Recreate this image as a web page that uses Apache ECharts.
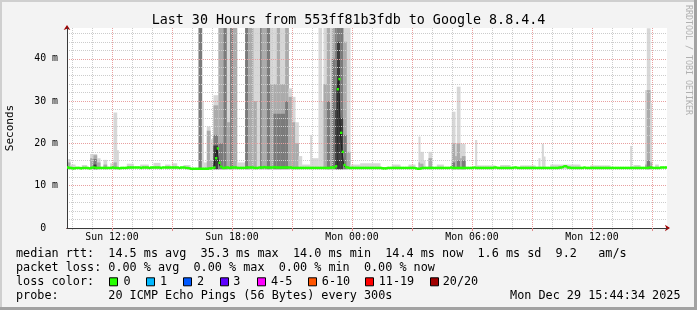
<!DOCTYPE html>
<html><head><meta charset="utf-8">
<script src="https://cdn.jsdelivr.net/npm/echarts@6/dist/echarts.min.js"></script>
<style>html,body{margin:0;padding:0;background:#f3f3f3}#c{width:697px;height:310px}</style>
</head><body><div id="c"></div>
<script>
const FONT = 'DejaVu Sans Mono';
const titleText = 'Last 30 Hours from 553ff81b3fdb to Google 8.8.4.4';
const startMinute = 585;          // Sun 09:45
const stepMinutes = 5;
const stepCount = 361;
const dayNames = ['Sun', 'Mon'];
const xTickLabels = ['Sun 12:00', 'Sun 18:00', 'Mon 00:00', 'Mon 06:00', 'Mon 12:00'];
const yTickValues = [0, 10, 20, 30, 40];
const yMax = 47.28;
const smokeBase = 13.9;

// median RTT (ms), one value per 5-minute step
const median = [
14.3,14.2,14.2,14.1,14.1,14.2,14.2,14.2,14.1,14.2,14.2,14.2,14.2,14.1,14.2,14.3,14.3,14.2,14.2,14.2,
14.2,14.2,14.2,14.2,14.2,14.2,14.2,14.3,14.2,14.2,14.2,14.1,14.2,14.2,14.2,14.2,14.3,14.3,14.3,14.3,
14.3,14.3,14.3,14.3,14.2,14.3,14.3,14.3,14.3,14.2,14.3,14.3,14.3,14.3,14.3,14.3,14.2,14.3,14.3,14.3,
14.3,14.3,14.3,14.3,14.3,14.3,14.3,14.2,14.3,14.3,14.3,14.2,14.2,14.1,14.0,14.0,14.0,14.0,14.0,14.0,
14.0,14.0,14.0,14.0,14.0,14.1,14.1,14.2,14.3,16.5,18.8,15.4,14.5,14.2,14.2,14.3,14.3,14.2,14.3,14.3,
14.3,14.3,14.2,14.2,14.2,14.2,14.2,14.3,14.3,14.3,14.3,14.3,14.2,14.2,14.2,14.3,14.3,14.3,14.4,14.3,
14.3,14.3,14.3,14.3,14.4,14.3,14.3,14.3,14.3,14.3,14.3,14.3,14.3,14.3,14.3,14.2,14.2,14.2,14.2,14.2,
14.2,14.2,14.2,14.2,14.2,14.2,14.2,14.2,14.2,14.2,14.2,14.2,14.2,14.2,14.2,14.2,14.2,14.2,14.3,14.3,
14.3,14.6,32.8,35.2,22.5,18.0,14.9,14.4,14.3,14.2,14.2,14.2,14.2,14.2,14.2,14.2,14.2,14.2,14.2,14.2,
14.2,14.2,14.2,14.2,14.2,14.2,14.2,14.2,14.2,14.1,14.1,14.1,14.2,14.2,14.2,14.2,14.2,14.2,14.2,14.2,
14.2,14.2,14.2,14.2,14.2,14.2,14.2,14.2,14.2,14.1,14.0,14.0,14.1,14.2,14.2,14.2,14.2,14.2,14.2,14.2,
14.2,14.2,14.2,14.2,14.2,14.2,14.2,14.2,14.2,14.2,14.3,14.2,14.2,14.2,14.2,14.2,14.2,14.2,14.2,14.2,
14.2,14.2,14.2,14.2,14.3,14.2,14.2,14.2,14.2,14.2,14.2,14.2,14.2,14.2,14.2,14.2,14.3,14.3,14.2,14.2,
14.2,14.2,14.2,14.2,14.2,14.2,14.2,14.2,14.3,14.3,14.2,14.2,14.2,14.2,14.2,14.2,14.2,14.2,14.2,14.2,
14.2,14.2,14.2,14.2,14.2,14.2,14.2,14.2,14.2,14.2,14.2,14.2,14.2,14.2,14.2,14.3,14.3,14.4,14.6,14.6,
14.3,14.3,14.2,14.2,14.2,14.2,14.2,14.2,14.2,14.2,14.3,14.2,14.2,14.2,14.2,14.2,14.2,14.2,14.2,14.2,
14.2,14.2,14.2,14.2,14.2,14.2,14.2,14.2,14.2,14.2,14.2,14.2,14.2,14.2,14.2,14.2,14.2,14.2,14.2,14.2,
14.2,14.2,14.2,14.2,14.2,14.2,14.2,14.2,14.2,14.3,14.3,14.2,14.2,14.2,14.2,14.2,14.3,14.3,14.3,14.3,
14.4
];

// smoke: runs of steps [start, end) with the top of each grey band (ms), 0 = band absent
const segStart = [0,2,9,14,16,18,22,26,28,30,36,44,52,59,63,70,
  79,81,82,84,86,88,91,94,96,98,99,100,102,107,109,112,114,116,117,120,122,124,126,128,131,133,135,137,139,141,146,147,151,153,154,156,158,159,161,162,164,166,168,170,
  176,195,205,211,212,214,217,222,231,233,234,236,237,245,246,260,272,283,285,286,290,314,338,340,347,348,350,353];
const segEnd = [2,5,12,16,18,20,24,28,30,31,40,49,56,62,66,74,
  81,82,84,86,88,91,94,96,98,99,100,102,107,109,112,114,116,117,120,122,124,126,128,131,133,135,137,139,141,146,147,151,153,154,156,158,159,161,162,164,166,168,170,176,
  188,200,209,212,214,215,219,226,233,234,236,237,239,246,257,266,281,284,286,287,308,326,339,344,348,350,351,355];
const segLight = [16.3,15.0,14.9,17.5,17.5,16.5,16.1,15.3,27.3,18.4,15.2,15.0,15.4,15.0,15.3,14.9,
  0,30,15.5,24,21,31.4,48,48,48,48,48,48,15.5,48,48,48,48,48,48,48,48,48,48,48,48,33,31,25,17,15,22,16.5,48,30,48,48,48,48,48,48,48,48,48,15,
  15.3,15,15,21.6,18,16,18,15,27.5,20,33.4,20,19.9,20.8,14.8,14.9,14.8,16.5,19.9,16.9,15,14.8,19.4,14.9,32.6,47.2,29.5,15];
const segMid = [15.5,0,0,16.5,17.2,15.5,15.0,0,15.5,0,0,0,0,0,0,0,
  0,0,0,23,16,29,48,48,25,48,48,48,0,48,48,30,0,48,48,48,34,34,48,34,48,31,25,20,0,0,0,0,0,0,34,48,28,48,48,48,48,44,18,0,
  0,0,0,15.5,15.2,0,16.5,0,20,17,20,16.5,17,0,0,0,0,0,0,0,0,0,0,0,15,32.6,15.5,0];
const segDark = [0,0,0,0,16.3,0,0,0,0,0,0,0,0,0,0,0,
  48,0,0,0,0,22,20,48,0,48,48,0,0,48,0,0,0,48,0,48,0,27,27,27,30,0,0,0,0,0,0,0,0,0,0,30,0,40,48,48,48,22,0,0,
  0,0,0,0,0,0,0,0,15.5,0,16,0,16,0,0,0,0,0,0,0,0,0,0,0,0,16,0,0];
const segBlack = [0,0,0,0,15.0,0,0,0,0,0,0,0,0,0,0,0,
  0,0,0,0,0,19.5,0,0,0,0,0,0,0,0,0,0,0,0,0,0,0,0,0,0,0,0,0,0,0,0,0,0,0,0,0,0,0,0,28,44,26,0,0,0,
  0,0,0,0,0,0,0,0,0,0,0,0,0,0,0,0,0,0,0,0,0,0,0,0,0,0,0,0];

const rttLabel = 'median rtt:';
const rttStats = ['14.5 ms avg', '35.3 ms max', '14.0 ms min', '14.4 ms now', '1.6 ms sd', '9.2', 'am/s'];
const lossLabel = 'packet loss:';
const lossStats = ['0.00 % avg', '0.00 % max', '0.00 % min', '0.00 % now'];
const colorLabel = 'loss color:';
const lossNames = ['0', '1', '2', '3', '4-5', '6-10', '11-19', '20/20'];
const lossColors = ['#26ff00', '#00b8ff', '#0059ff', '#5e00ff', '#ff00ff', '#ff5500', '#ff0000', '#a00000'];
const probeLabel = 'probe:';
const probeText = '20 ICMP Echo Pings (56 Bytes) every 300s';
const dateText = 'Mon Dec 29 15:44:34 2025';
const yName = 'Seconds';
const sideText = 'RRDTOOL / TOBI OETIKER';

// ---- layout / style ----
const legendLeft = 16;
const charW = 7.1;
const legendFont = 11.8;
const rttCols = [13, 26, 39, 52, 65, 76, 82];
const lossCols = [13, 25, 37, 49];
const probeCol = 13;
const boxX = [108.9, 145.8, 182.7, 219.6, 256.9, 307.6, 365.3, 430.2];
const nameX = [123.6, 160.0, 196.9, 233.3, 271.1, 321.8, 378.7, 442.7];
const rowY = [254.3, 268.3, 282.3, 296.0];
const smokeColors = ['#d7d7d7', '#ababab', '#7b7b7b', '#3c3c3c'];

const times = [];
for (let i = 0; i < stepCount; i++) {
  const m = startMinute + i * stepMinutes;
  const d = Math.floor(m / 1440), hh = Math.floor((m % 1440) / 60), mm = m % 60;
  times.push(dayNames[d] + ' ' + String(hh).padStart(2, '0') + ':' + String(mm).padStart(2, '0'));
}
const isHour = (i, v) => v.endsWith(':00');
const isMajor = (i, v) => v.endsWith(':00') && parseInt(v.slice(4, 6), 10) % 3 === 0;
const isLabel = (i, v) => xTickLabels.includes(v);

const chart = echarts.init(document.getElementById('c'), null, {renderer: 'canvas'});

const legendText = (text, x, y) => ({
  type: 'text', x: x, y: y, silent: true,
  style: {text: text, fontFamily: FONT, fontSize: legendFont, fill: '#000', align: 'left', verticalAlign: 'middle'}
});
const colX = c => legendLeft + c * charW;

const graphics = [
  {type: 'rect', shape: {x: 0, y: 0, width: 697, height: 2}, style: {fill: '#cfcfcf'}, silent: true},
  {type: 'rect', shape: {x: 0, y: 0, width: 2, height: 310}, style: {fill: '#cfcfcf'}, silent: true},
  {type: 'rect', shape: {x: 694, y: 0, width: 3, height: 310}, style: {fill: '#a2a2a2'}, silent: true},
  {type: 'rect', shape: {x: 0, y: 307, width: 697, height: 3}, style: {fill: '#a2a2a2'}, silent: true},
  {type: 'text', x: 10, y: 128, rotation: Math.PI / 2, silent: true,
    style: {text: yName, fontFamily: FONT, fontSize: 11, fill: '#000', align: 'center', verticalAlign: 'middle'}},
  {type: 'text', x: 688, y: 60, rotation: -Math.PI / 2, silent: true,
    style: {text: sideText, fontFamily: FONT, fontSize: 8.3, fill: '#b0b0b0', align: 'center', verticalAlign: 'middle'}},
  legendText(rttLabel, legendLeft, rowY[0]),
  legendText(lossLabel, legendLeft, rowY[1]),
  legendText(colorLabel, legendLeft, rowY[2]),
  legendText(probeLabel, legendLeft, rowY[3]),
  legendText(probeText, colX(probeCol), rowY[3]),
  {type: 'text', x: 680.5, y: rowY[3], silent: true,
    style: {text: dateText, fontFamily: FONT, fontSize: legendFont, fill: '#000', align: 'right', verticalAlign: 'middle'}}
];
rttStats.forEach((t, k) => graphics.push(legendText(t, colX(rttCols[k]), rowY[0])));
lossStats.forEach((t, k) => graphics.push(legendText(t, colX(lossCols[k]), rowY[1])));
lossNames.forEach((t, k) => {
  graphics.push({type: 'rect', silent: true, shape: {x: Math.round(boxX[k]) + 0.5, y: rowY[2] - 4.5, width: 8, height: 8},
    style: {fill: lossColors[k], stroke: '#000', lineWidth: 1}});
  graphics.push(legendText(t, nameX[k], rowY[2]));
});

const xBase = {type: 'category', data: times, boundaryGap: false, position: 'bottom', gridIndex: 0};
const yBase = {type: 'value', min: 0, max: yMax, position: 'left', gridIndex: 0};

chart.setOption({
  animation: false,
  backgroundColor: '#f3f3f3',
  title: {text: titleText, left: 'center', top: 9,
    textStyle: {fontFamily: FONT, fontSize: 13.35, fontWeight: 'normal', color: '#000'}},
  grid: {left: 67, top: 28, width: 600, height: 200, show: true, backgroundColor: '#ffffff', borderWidth: 0},
  xAxis: [
    Object.assign({}, xBase, {z: 3,
      axisLine: {show: false}, axisLabel: {show: false},
      axisTick: {show: true, interval: isHour, length: 2, lineStyle: {color: '#b8b8b8'}},
      splitLine: {show: true, interval: isHour, lineStyle: {color: '#cccccc', width: 1, type: [1, 1]}}}),
    Object.assign({}, xBase, {z: 4,
      axisLine: {show: true, lineStyle: {color: '#3a3a3a', width: 1}},
      axisTick: {show: true, interval: isMajor, length: 3, lineStyle: {color: '#e08a8a'}},
      axisLabel: {show: true, interval: isLabel, fontFamily: FONT, fontSize: 9.85, color: '#000', margin: 4},
      splitLine: {show: true, interval: isMajor, lineStyle: {color: '#e8a0a0', width: 1, type: [1, 1]}}}),
    Object.assign({}, xBase, {z: 2,
      axisLine: {show: true, symbol: ['none', 'arrow'], symbolSize: [5, 5], symbolOffset: [0, 3], lineStyle: {color: '#a00000', width: 1}},
      axisTick: {show: false}, axisLabel: {show: false}, splitLine: {show: false}})
  ],
  yAxis: [
    Object.assign({}, yBase, {interval: 2, z: 3,
      axisLine: {show: false}, axisTick: {show: false}, axisLabel: {show: false},
      splitLine: {show: true, showMinLine: false, showMaxLine: false, lineStyle: {color: '#cccccc', width: 1, type: [1, 1]}}}),
    Object.assign({}, yBase, {interval: 10, z: 4,
      axisLine: {show: true, lineStyle: {color: '#3a3a3a', width: 1}},
      axisTick: {show: false},
      axisLabel: {show: true, margin: 9, fontFamily: FONT, fontSize: 9.85, color: '#000',
        formatter: v => yTickValues.includes(v) ? (v === 0 ? '0  ' : v + ' m') : ''},
      splitLine: {show: true, showMinLine: false, showMaxLine: false, lineStyle: {color: '#e8a0a0', width: 1, type: [1, 1]}}}),
    Object.assign({}, yBase, {interval: 10, z: 2,
      axisLine: {show: true, symbol: ['none', 'arrow'], symbolSize: [5, 5], symbolOffset: [0, 3], lineStyle: {color: '#a00000', width: 1}},
      axisTick: {show: false}, axisLabel: {show: false}, splitLine: {show: false}})
  ],
  series: [
    {
      type: 'custom', name: 'smoke', xAxisIndex: 0, yAxisIndex: 0, z: 1, clip: true, silent: true,
      data: segStart.map((s, k) => [s, segEnd[k], segLight[k], segMid[k], segDark[k], segBlack[k]]),
      dimensions: [{name: 's', type: 'number'}, {name: 'e', type: 'number'}, 'l', 'm', 'd', 'k'],
      encode: {x: 0, y: 2},
      renderItem: (params, api) => {
        const s = api.value(0), e = api.value(1);
        const children = [];
        [2, 3, 4, 5].forEach((dim, k) => {
          const top = api.value(dim);
          if (!(top > smokeBase)) return;
          const p0 = api.coord([s, smokeBase]);
          const p1 = api.coord([e, Math.min(top, yMax)]);
          children.push({type: 'rect', shape: {x: p0[0] - 0.2, y: p1[1], width: p1[0] - p0[0] + 0.4, height: p0[1] - p1[1]},
            style: {fill: smokeColors[k]}});
        });
        return {type: 'group', children: children};
      }
    },
    {
      type: 'line', name: 'median-link', xAxisIndex: 0, yAxisIndex: 0, z: 5, silent: true,
      data: median, step: 'end', symbol: 'none', lineStyle: {color: '#1e1e1e', width: 1}
    },
    {
      type: 'custom', name: 'median', xAxisIndex: 0, yAxisIndex: 0, z: 6, clip: true, silent: true,
      data: median.map((v, i) => [i, v]),
      dimensions: [{name: 'i', type: 'number'}, 'v'],
      encode: {x: 0, y: 1},
      renderItem: (params, api) => {
        const i = api.value(0), v = api.value(1);
        if (i >= stepCount - 1) return null;
        const p0 = api.coord([i, v]);
        const p1 = api.coord([i + 1, v]);
        return {type: 'rect', shape: {x: p0[0] - 0.3, y: p0[1] - 1.2, width: p1[0] - p0[0] + 0.6, height: 2.4},
          style: {fill: '#26ff00'}};
      }
    }
  ],
  graphic: graphics
});
</script>
</body></html>
